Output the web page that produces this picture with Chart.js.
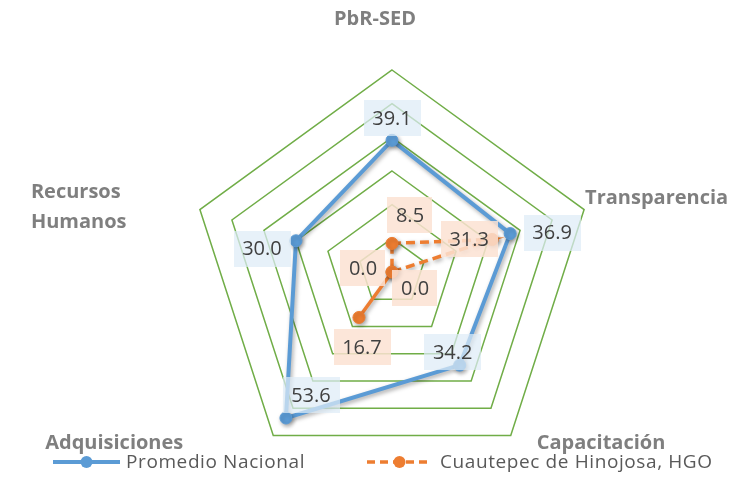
<!DOCTYPE html>
<html>
<head>
<meta charset="utf-8">
<script src="https://cdn.jsdelivr.net/npm/chart.js@4.4.1/dist/chart.umd.min.js"></script>
<style>
  html, body { margin: 0; padding: 0; background: #ffffff; }
  #wrap { width: 733px; height: 490px; position: relative; }
</style>
</head>
<body>
<div id="wrap"><canvas id="c"></canvas></div>
<script>
// Axes of the radar (clockwise from the top)
const categories = ['PbR-SED', 'Transparencia', 'Capacitación', 'Adquisiciones', ['Recursos', 'Humanos']];
const seriesNames = ['Promedio Nacional', 'Cuautepec de Hinojosa, HGO'];
const promedioNacional = [39.1, 36.9, 34.2, 53.6, 30.0];
const cuautepec = [8.5, 31.3, 0.0, 16.7, 0.0];
const scaleMin = 0;
const scaleMax = 60;
const scaleStep = 10;

const BLUE = '#5B9BD5';
const ORANGE = '#ED7D31';
const FONT = '"Open Sans", "Liberation Sans", sans-serif';

// Segments of the municipal series that are drawn dashed (by starting point index)
const dashedFrom = [0, 1, 4];

// Placement of the value boxes relative to their point (box centre offset)
const valueBoxOffsets = [
  [[0, -22], [42, -1], [-7, -13], [25, -23], [-34, 8]],
  [[18, -28], [-23, 0], [23, 16], [3, 30], [-29, -4]]
];
const valueBoxFills = ['rgba(222,235,247,0.72)', 'rgba(251,226,210,0.85)'];

// Placement of axis titles relative to the outer vertex
const axisTitlePlacement = [
  { dx: -17, dy: -45, align: 'center' },
  { dx: 1, dy: -6, align: 'left' },
  { dx: 26, dy: 14, align: 'left' },
  { dx: -90, dy: 14, align: 'right' },
  { dx: -169, dy: -12, align: 'left' }
];

// The radar controller does not forward segment styling to its line,
// so hand it over after each dataset update.
const segmentBridge = {
  id: 'segmentBridge',
  afterDatasetUpdate(chart, args) {
    const meta = args.meta;
    const line = meta.dataset;
    const seg = meta.controller.options.segment;
    if (line && seg) {
      line._chart = chart;
      line._datasetIndex = meta.index;
      line.options = Object.assign({}, line.options, { segment: seg });
      delete line._segments;
      delete line._path;
    }
  }
};

// Soft drop shadow under lines and markers
const dropShadow = {
  id: 'dropShadow',
  beforeDatasetDraw(chart) {
    const ctx = chart.ctx;
    ctx.save();
    ctx.shadowColor = 'rgba(0,0,0,0.35)';
    ctx.shadowBlur = 4;
    ctx.shadowOffsetX = 1.5;
    ctx.shadowOffsetY = 2;
  },
  afterDatasetDraw(chart) {
    chart.ctx.restore();
  }
};

// Axis titles around the outer ring
const axisTitles = {
  id: 'axisTitles',
  afterDraw(chart) {
    const scale = chart.scales.r;
    const ctx = chart.ctx;
    ctx.save();
    ctx.font = 'bold 20px ' + FONT;
    ctx.fillStyle = '#7F7F7F';
    ctx.textBaseline = 'alphabetic';
    chart.data.labels.forEach((lab, i) => {
      const p = scale.getPointPosition(i, scale.drawingArea);
      const pl = axisTitlePlacement[i];
      const lines = Array.isArray(lab) ? lab : [lab];
      ctx.textAlign = pl.align;
      lines.forEach((t, k) => {
        ctx.fillText(t, p.x + pl.dx, p.y + pl.dy + k * 30);
      });
    });
    ctx.restore();
  }
};

// Value boxes on top of the points
const valueBoxes = {
  id: 'valueBoxes',
  afterDatasetsDraw(chart) {
    const ctx = chart.ctx;
    ctx.save();
    ctx.font = '20px ' + FONT;
    ctx.textAlign = 'center';
    ctx.textBaseline = 'middle';
    chart.data.datasets.forEach((ds, di) => {
      const meta = chart.getDatasetMeta(di);
      meta.data.forEach((pt, i) => {
        const txt = ds.data[i].toFixed(1);
        const off = valueBoxOffsets[di][i];
        const cx = pt.x + off[0];
        const cy = pt.y + off[1];
        const w = ctx.measureText(txt).width + 17;
        const h = 36;
        ctx.fillStyle = valueBoxFills[di];
        ctx.fillRect(Math.round(cx - w / 2), Math.round(cy - h / 2), Math.round(w), h);
        ctx.fillStyle = '#404040';
        ctx.fillText(txt, cx, cy + 1);
      });
    });
    ctx.restore();
  }
};

// Legend row under the chart
const legendRow = {
  id: 'legendRow',
  afterDraw(chart) {
    const ctx = chart.ctx;
    const y = 462;
    const items = [
      { x0: 53, x1: 120, tx: 126 },
      { x0: 367, x1: 432, tx: 440 }
    ];
    ctx.save();
    chart.data.datasets.forEach((ds, di) => {
      const it = items[di];
      ctx.strokeStyle = ds.borderColor;
      ctx.lineWidth = ds.borderWidth;
      ctx.setLineDash(di === 1 ? [8, 5] : []);
      ctx.beginPath();
      ctx.moveTo(it.x0, y);
      ctx.lineTo(it.x1, y);
      ctx.stroke();
      ctx.setLineDash([]);
      ctx.fillStyle = ds.pointBackgroundColor;
      ctx.beginPath();
      ctx.arc((it.x0 + it.x1) / 2, y, 6, 0, Math.PI * 2);
      ctx.fill();
      ctx.fillStyle = '#595959';
      ctx.font = '19px ' + FONT;
      ctx.letterSpacing = '0.6px';
      ctx.textAlign = 'left';
      ctx.textBaseline = 'middle';
      ctx.fillText(ds.label, it.tx, y + 1);
      ctx.letterSpacing = '0px';
    });
    ctx.restore();
  }
};

new Chart(document.getElementById('c'), {
  type: 'radar',
  data: {
    labels: categories,
    datasets: [
      {
        label: seriesNames[0],
        data: promedioNacional,
        borderColor: BLUE,
        backgroundColor: BLUE,
        borderWidth: 4,
        borderJoinStyle: 'round',
        pointBackgroundColor: BLUE,
        pointBorderColor: BLUE,
        pointBorderWidth: 1,
        pointRadius: 6,
        fill: false,
        order: 1
      },
      {
        label: seriesNames[1],
        data: cuautepec,
        borderColor: ORANGE,
        backgroundColor: ORANGE,
        borderWidth: 3.5,
        borderDash: [],
        pointBackgroundColor: ORANGE,
        pointBorderColor: ORANGE,
        pointBorderWidth: 1,
        pointRadius: 6,
        fill: false,
        order: 0,
        segment: {
          borderDash: ctx => dashedFrom.includes(ctx.p0DataIndex) ? [9, 5] : []
        }
      }
    ]
  },
  options: {
    responsive: true,
    maintainAspectRatio: false,
    animation: false,
    layout: { padding: { top: 70, bottom: 16, left: 150, right: 99 } },
    plugins: {
      legend: { display: false },
      tooltip: { enabled: false }
    },
    scales: {
      r: {
        min: scaleMin,
        max: scaleMax,
        ticks: { stepSize: scaleStep, display: false },
        grid: { color: '#70AD47', lineWidth: 1.5 },
        angleLines: { display: false },
        pointLabels: { display: false }
      }
    }
  },
  plugins: [segmentBridge, dropShadow, axisTitles, valueBoxes, legendRow]
});
</script>
</body>
</html>
